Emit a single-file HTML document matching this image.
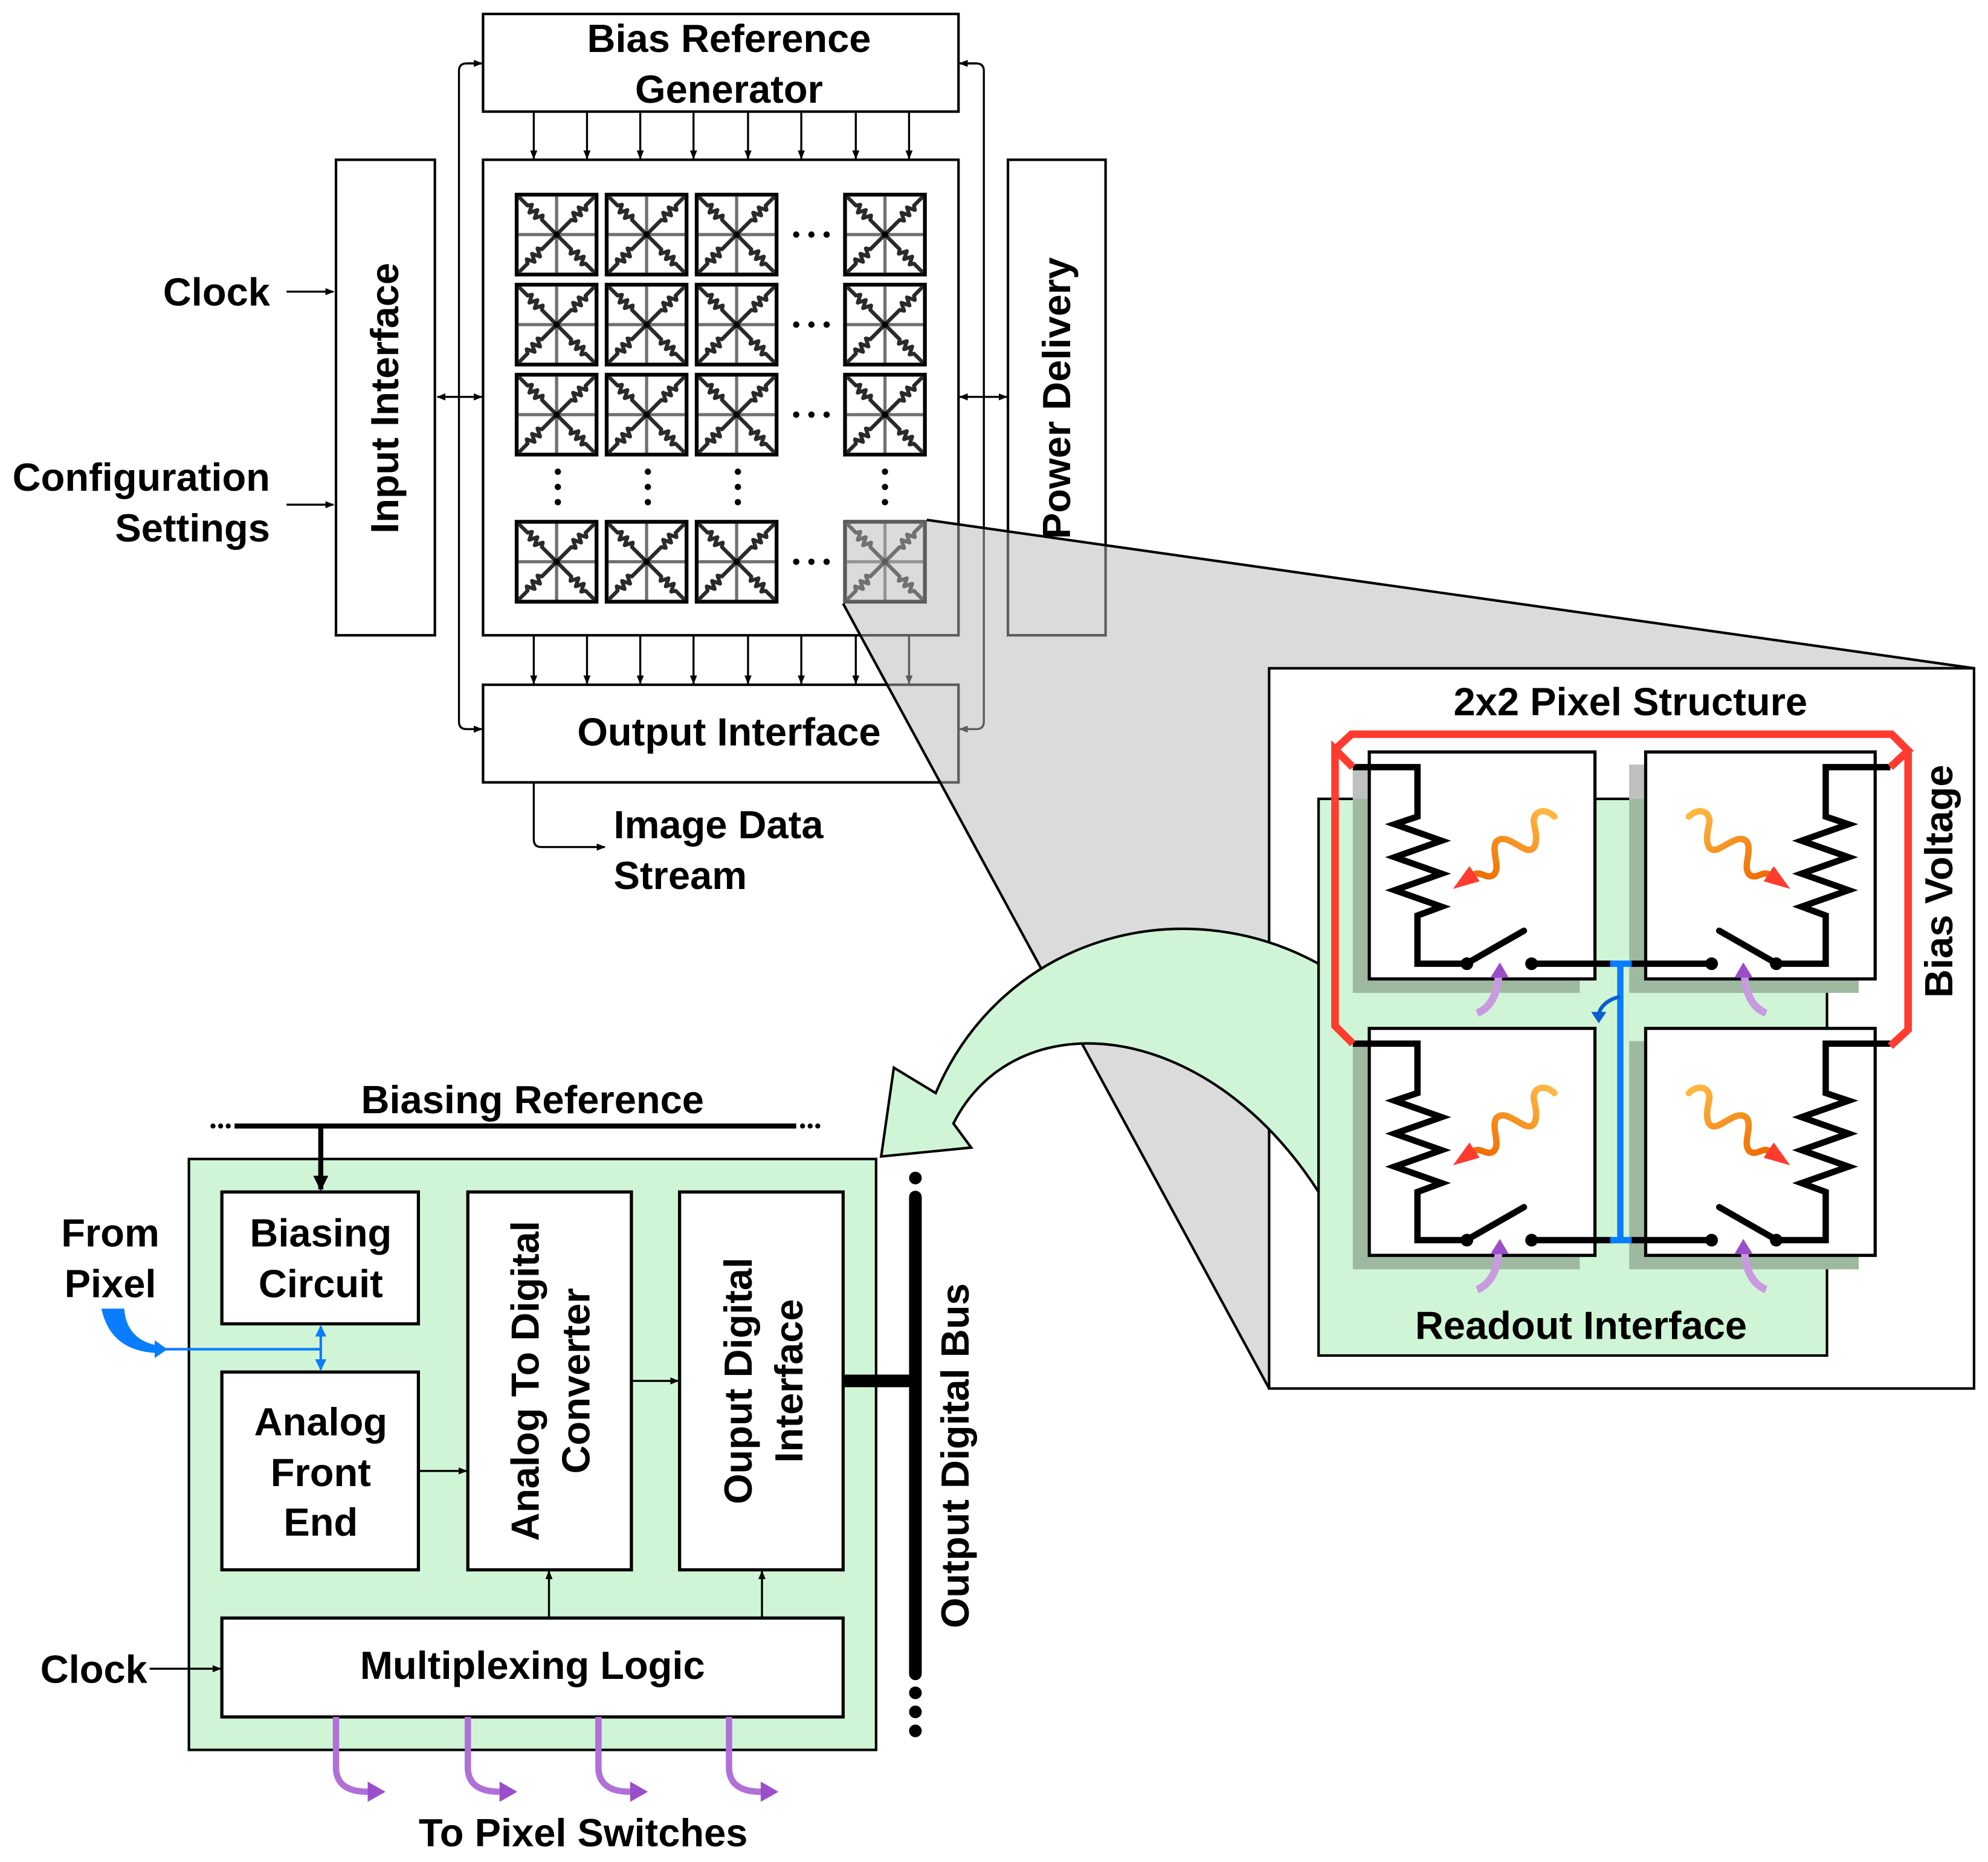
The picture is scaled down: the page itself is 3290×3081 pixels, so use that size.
<!DOCTYPE html>
<html><head><meta charset="utf-8"><style>
html,body{margin:0;padding:0;background:#fff;width:3290px;height:3081px;overflow:hidden}
svg{display:block}
text{font-family:"Liberation Sans",Arial,sans-serif;font-weight:bold;font-size:31px;fill:#000}
</style></head><body>
<svg width="3290" height="3081" viewBox="0 0 1568 1468.4" xmlns="http://www.w3.org/2000/svg">
<defs>
<marker id="ah" viewBox="0 0 10 10" refX="9" refY="5" markerWidth="7" markerHeight="7" orient="auto-start-reverse" markerUnits="userSpaceOnUse"><path d="M0,1 L10,5 L0,9 z" fill="#000"/></marker>
<marker id="ahb" viewBox="0 0 10 10" refX="9" refY="5" markerWidth="9" markerHeight="9" orient="auto-start-reverse" markerUnits="userSpaceOnUse"><path d="M0,0 L10,5 L0,10 z" fill="#0a7cff"/></marker>
<marker id="ahk" viewBox="0 0 10 10" refX="9" refY="5" markerWidth="12" markerHeight="12" orient="auto" markerUnits="userSpaceOnUse"><path d="M0,0 L10,5 L0,10 z" fill="#000"/></marker>
<linearGradient id="og" x1="1" y1="0" x2="0" y2="1"><stop offset="0" stop-color="#ffbb44"/><stop offset="1" stop-color="#ee6a00"/></linearGradient>
<path id="zz" d="M3,3 L10.1,10.1 L13.6,9.4 L11.5,15.7 L17.9,13.6 L15.7,20 L22.1,17.9 L21.4,21.4 L33,33" fill="none" stroke-width="3" stroke-linejoin="round"/>
<g id="cell">
<rect x="1.5" y="1.5" width="63" height="63" fill="#fff" stroke="#000" stroke-width="3"/>
<line x1="33" y1="3" x2="33" y2="63" stroke="#707070" stroke-width="2.5"/>
<line x1="3" y1="33" x2="63" y2="33" stroke="#707070" stroke-width="2.5"/>
<g stroke="#2a2a2a">
<use href="#zz"/><use href="#zz" transform="rotate(90 33 33)"/><use href="#zz" transform="rotate(180 33 33)"/><use href="#zz" transform="rotate(270 33 33)"/>
</g>
<circle cx="33" cy="33" r="2.5" fill="#000"/>
</g>
<g id="pix">
<path d="M1067,605 L1118,605 L1118,644 L1100,650 L1137,663 L1100,676 L1137,689 L1100,702 L1137,715 L1118,722 L1118,760 L1157,760" fill="none" stroke="#000" stroke-width="5" stroke-linejoin="miter"/>
<line x1="1160" y1="758" x2="1202" y2="734" stroke="#000" stroke-width="5" stroke-linecap="round"/>
<circle cx="1157" cy="760" r="5" fill="#000"/><circle cx="1208" cy="760" r="5" fill="#000"/>
<line x1="1208" y1="760" x2="1272" y2="760" stroke="#000" stroke-width="5"/>
<path d="M1226,644 C1218,636 1208,640 1210,650 C1213,662 1212,672 1204,670 C1196,667 1186,657 1180,664 C1176,672 1184,684 1178,690 C1172,694 1168,686 1162,690" fill="none" stroke="url(#og)" stroke-width="5" stroke-linecap="round"/>
<path d="M1159,683 L1146,701 L1167,695 z" fill="#ff3b30"/>
<path d="M1182,769 C1181,785 1175,795 1165,799" fill="none" stroke="#c89be0" stroke-width="6"/>
<path d="M1183,759 L1175.5,771 L1190,771 z" fill="#9b4dca"/>
</g>
</defs>

<rect x="381" y="11" width="375" height="77" fill="#fff" stroke="#000" stroke-width="2"/>
<text x="575" y="41" text-anchor="middle">Bias Reference</text>
<text x="575" y="81" text-anchor="middle">Generator</text>
<g stroke="#000" stroke-width="1.6" marker-end="url(#ah)">
<line x1="421" y1="88" x2="421" y2="125"/><line x1="463" y1="88" x2="463" y2="125"/><line x1="505" y1="88" x2="505" y2="125"/><line x1="547" y1="88" x2="547" y2="125"/><line x1="590" y1="88" x2="590" y2="125"/><line x1="632" y1="88" x2="632" y2="125"/><line x1="675" y1="88" x2="675" y2="125"/><line x1="717" y1="88" x2="717" y2="125"/>
<line x1="421" y1="501" x2="421" y2="539"/><line x1="463" y1="501" x2="463" y2="539"/><line x1="505" y1="501" x2="505" y2="539"/><line x1="547" y1="501" x2="547" y2="539"/><line x1="590" y1="501" x2="590" y2="539"/><line x1="632" y1="501" x2="632" y2="539"/><line x1="675" y1="501" x2="675" y2="539"/><line x1="717" y1="501" x2="717" y2="539"/>
</g>
<rect x="381" y="126" width="375" height="375" fill="#fff" stroke="#000" stroke-width="2"/>
<g>
<use href="#cell" x="406" y="152"/><use href="#cell" x="477" y="152"/><use href="#cell" x="548" y="152"/><use href="#cell" x="665" y="152"/>
<use href="#cell" x="406" y="223"/><use href="#cell" x="477" y="223"/><use href="#cell" x="548" y="223"/><use href="#cell" x="665" y="223"/>
<use href="#cell" x="406" y="294"/><use href="#cell" x="477" y="294"/><use href="#cell" x="548" y="294"/><use href="#cell" x="665" y="294"/>
<use href="#cell" x="406" y="410"/><use href="#cell" x="477" y="410"/><use href="#cell" x="548" y="410"/><use href="#cell" x="665" y="410"/>
</g>
<g fill="#000">
<circle cx="628" cy="185" r="2.5"/><circle cx="640" cy="185" r="2.5"/><circle cx="652" cy="185" r="2.5"/>
<circle cx="628" cy="256" r="2.5"/><circle cx="640" cy="256" r="2.5"/><circle cx="652" cy="256" r="2.5"/>
<circle cx="628" cy="327" r="2.5"/><circle cx="640" cy="327" r="2.5"/><circle cx="652" cy="327" r="2.5"/>
<circle cx="628" cy="443" r="2.5"/><circle cx="640" cy="443" r="2.5"/><circle cx="652" cy="443" r="2.5"/>
<circle cx="440" cy="372" r="2.5"/><circle cx="440" cy="384" r="2.5"/><circle cx="440" cy="396" r="2.5"/>
<circle cx="511" cy="372" r="2.5"/><circle cx="511" cy="384" r="2.5"/><circle cx="511" cy="396" r="2.5"/>
<circle cx="582" cy="372" r="2.5"/><circle cx="582" cy="384" r="2.5"/><circle cx="582" cy="396" r="2.5"/>
<circle cx="698" cy="372" r="2.5"/><circle cx="698" cy="384" r="2.5"/><circle cx="698" cy="396" r="2.5"/>
</g>
<rect x="265" y="126" width="78" height="375" fill="#fff" stroke="#000" stroke-width="2"/>
<text transform="translate(314,314) rotate(-90)" text-anchor="middle">Input Interface</text>
<rect x="795" y="126" width="77" height="375" fill="#fff" stroke="#000" stroke-width="2"/>
<text transform="translate(844,314) rotate(-90)" text-anchor="middle">Power Delivery</text>
<rect x="381" y="540" width="375" height="77" fill="#fff" stroke="#000" stroke-width="2"/>
<text x="575" y="588" text-anchor="middle">Output Interface</text>

<text x="213" y="241" text-anchor="end">Clock</text>
<text x="213" y="387" text-anchor="end">Configuration</text>
<text x="213" y="427" text-anchor="end">Settings</text>
<g stroke="#000" stroke-width="1.6" fill="none">
<line x1="226" y1="230" x2="263" y2="230" marker-end="url(#ah)"/>
<line x1="226" y1="398" x2="263" y2="398" marker-end="url(#ah)"/>
<path d="M381,50 L368,50 Q362,50 362,56 L362,569 Q362,575 368,575 L380,575" marker-end="url(#ah)"/>
<line x1="368" y1="50" x2="380" y2="50" marker-end="url(#ah)"/>
<line x1="345" y1="313" x2="380" y2="313" marker-start="url(#ah)" marker-end="url(#ah)"/>
<path d="M757,50 L770,50 Q776,50 776,56 L776,569 Q776,575 770,575 L757,575" marker-end="url(#ah)"/>
<line x1="770" y1="50" x2="757" y2="50" marker-end="url(#ah)"/>
<line x1="757" y1="313" x2="794" y2="313" marker-start="url(#ah)" marker-end="url(#ah)"/>
<path d="M421,617 L421,662 Q421,668 427,668 L477,668" marker-end="url(#ah)"/>
</g>
<text x="484" y="661">Image Data</text>
<text x="484" y="701">Stream</text>

<polygon points="665,410 731,410 1557,527 1001,1095 665,476" fill="#b8b8b8" fill-opacity="0.5"/>
<line x1="731" y1="410" x2="1557" y2="527" stroke="#000" stroke-width="2"/>
<line x1="665" y1="476" x2="1001" y2="1095" stroke="#000" stroke-width="2"/>

<rect x="1001" y="527" width="556" height="568" fill="#fff" stroke="#000" stroke-width="2"/>
<path d="M1040,760 C930,700 790,740 738,862 L705,842 L695,912 L766,905 L752,886 C800,790 950,800 1040,940 Z" fill="#d0f5d6" stroke="#000" stroke-width="2"/>
<rect x="1040" y="630" width="401" height="439" fill="#d0f5d6" stroke="#000" stroke-width="2"/>
<text x="1286" y="564" text-anchor="middle">2x2 Pixel Structure</text>
<text x="1247" y="1056" text-anchor="middle">Readout Interface</text>
<text transform="translate(1540,695) rotate(-90)" text-anchor="middle">Bias Voltage</text>
<g fill="#9fb9a0">
<rect x="1067" y="603" width="179" height="180"/><rect x="1285" y="603" width="181" height="180"/>
<rect x="1067" y="821" width="179" height="180"/><rect x="1285" y="821" width="181" height="180"/>
</g>
<g fill="#c0c0c0"><rect x="1067" y="603" width="13" height="27"/><rect x="1285" y="603" width="13" height="27"/></g>
<g fill="#fff" stroke="#000" stroke-width="2.5">
<rect x="1080" y="593" width="178" height="179"/><rect x="1298" y="593" width="181" height="179"/>
<rect x="1080" y="811" width="178" height="179"/><rect x="1298" y="811" width="181" height="179"/>
</g>
<use href="#pix"/>
<use href="#pix" transform="translate(0,218)"/>
<use href="#pix" transform="translate(2558,0) scale(-1,1)"/>
<use href="#pix" transform="translate(2558,218) scale(-1,1)"/>
<path d="M1067,605 L1053,591 L1053,809 L1067,823 M1053,591 L1066,579 L1492,579 L1505,592 L1491,605 M1505,592 L1505,812 L1491,825" fill="none" stroke="#ff3b30" stroke-width="6" stroke-linejoin="miter"/>
<path d="M1278,760 L1278,978 M1270,760 L1287,760 M1270,978 L1287,978" stroke="#0a7cff" stroke-width="5" fill="none"/>
<path d="M1278,786 C1268,788 1262,794 1261,800" stroke="#0a5fd0" stroke-width="3" fill="none"/>
<path d="M1255,798 L1267,798 L1261,807 z" fill="#0a5fd0"/>

<text x="420" y="878" text-anchor="middle">Biasing Reference</text>
<line x1="185" y1="888" x2="628" y2="888" stroke="#000" stroke-width="4"/>
<g fill="#000"><circle cx="168" cy="888" r="2"/><circle cx="174" cy="888" r="2"/><circle cx="180" cy="888" r="2"/><circle cx="633" cy="888" r="2"/><circle cx="639" cy="888" r="2"/><circle cx="645" cy="888" r="2"/></g>
<rect x="149" y="914" width="542" height="466" fill="#d0f5d6" stroke="#000" stroke-width="2"/>
<line x1="253" y1="888" x2="253" y2="938" stroke="#000" stroke-width="4" marker-end="url(#ahk)"/>
<g fill="#fff" stroke="#000" stroke-width="2.5">
<rect x="175" y="940" width="155" height="104"/>
<rect x="175" y="1082" width="155" height="156"/>
<rect x="369" y="940" width="129" height="298"/>
<rect x="536" y="940" width="129" height="298"/>
<rect x="175" y="1276" width="490" height="78"/>
</g>
<text x="253" y="983" text-anchor="middle">Biasing</text>
<text x="253" y="1023" text-anchor="middle">Circuit</text>
<text x="253" y="1132" text-anchor="middle">Analog</text>
<text x="253" y="1172" text-anchor="middle">Front</text>
<text x="253" y="1211" text-anchor="middle">End</text>
<text transform="translate(425,1089) rotate(-90)" text-anchor="middle">Analog To Digital</text>
<text transform="translate(465,1089) rotate(-90)" text-anchor="middle">Converter</text>
<text transform="translate(593,1089) rotate(-90)" text-anchor="middle">Ouput Digital</text>
<text transform="translate(633,1089) rotate(-90)" text-anchor="middle">Interface</text>
<text x="420" y="1324" text-anchor="middle">Multiplexing Logic</text>
<g stroke="#000" stroke-width="1.6">
<line x1="330" y1="1160" x2="368" y2="1160" marker-end="url(#ah)"/>
<line x1="498" y1="1089" x2="535" y2="1089" marker-end="url(#ah)"/>
<line x1="433" y1="1276" x2="433" y2="1239" marker-end="url(#ah)"/>
<line x1="601" y1="1276" x2="601" y2="1239" marker-end="url(#ah)"/>
<line x1="118" y1="1316" x2="174" y2="1316" marker-end="url(#ah)"/>
</g>
<text x="87" y="983" text-anchor="middle">From</text>
<text x="87" y="1023" text-anchor="middle">Pixel</text>
<text x="74" y="1327" text-anchor="middle">Clock</text>
<path d="M80,1032 L98,1032 C99,1048 108,1058 124,1061 L124,1067 C100,1066 85,1055 80,1032 Z" fill="#0a7cff"/>
<line x1="124" y1="1064" x2="253" y2="1064" stroke="#0a7cff" stroke-width="2"/>
<path d="M122,1057 L132,1064 L122,1071 z" fill="#0a7cff"/>
<line x1="253" y1="1046" x2="253" y2="1080" stroke="#0a7cff" stroke-width="2" marker-start="url(#ahb)" marker-end="url(#ahb)"/>
<line x1="665" y1="1089" x2="722" y2="1089" stroke="#000" stroke-width="10"/>
<line x1="722" y1="945" x2="722" y2="1320" stroke="#000" stroke-width="10" stroke-linecap="round"/>
<g fill="#000"><circle cx="722" cy="929" r="5"/><circle cx="722" cy="944" r="5"/><circle cx="722" cy="959" r="5"/><circle cx="722" cy="1335" r="5"/><circle cx="722" cy="1350" r="5"/><circle cx="722" cy="1365" r="5"/></g>
<text transform="translate(764,1148) rotate(-90)" text-anchor="middle">Output Digital Bus</text>
<g fill="none" stroke="#b070d8" stroke-width="5">
<path d="M265,1354 L265,1395 Q266,1413 290,1413"/>
<path d="M369,1354 L369,1395 Q370,1413 394,1413"/>
<path d="M472,1354 L472,1395 Q473,1413 497,1413"/>
<path d="M575,1354 L575,1395 Q576,1413 600,1413"/>
</g>
<g fill="#9b4dca">
<path d="M290,1405 L304,1413 L290,1421 z"/><path d="M394,1405 L408,1413 L394,1421 z"/><path d="M497,1405 L511,1413 L497,1421 z"/><path d="M600,1405 L614,1413 L600,1421 z"/>
</g>
<text x="460" y="1456" text-anchor="middle">To Pixel Switches</text>
</svg>
</body></html>
